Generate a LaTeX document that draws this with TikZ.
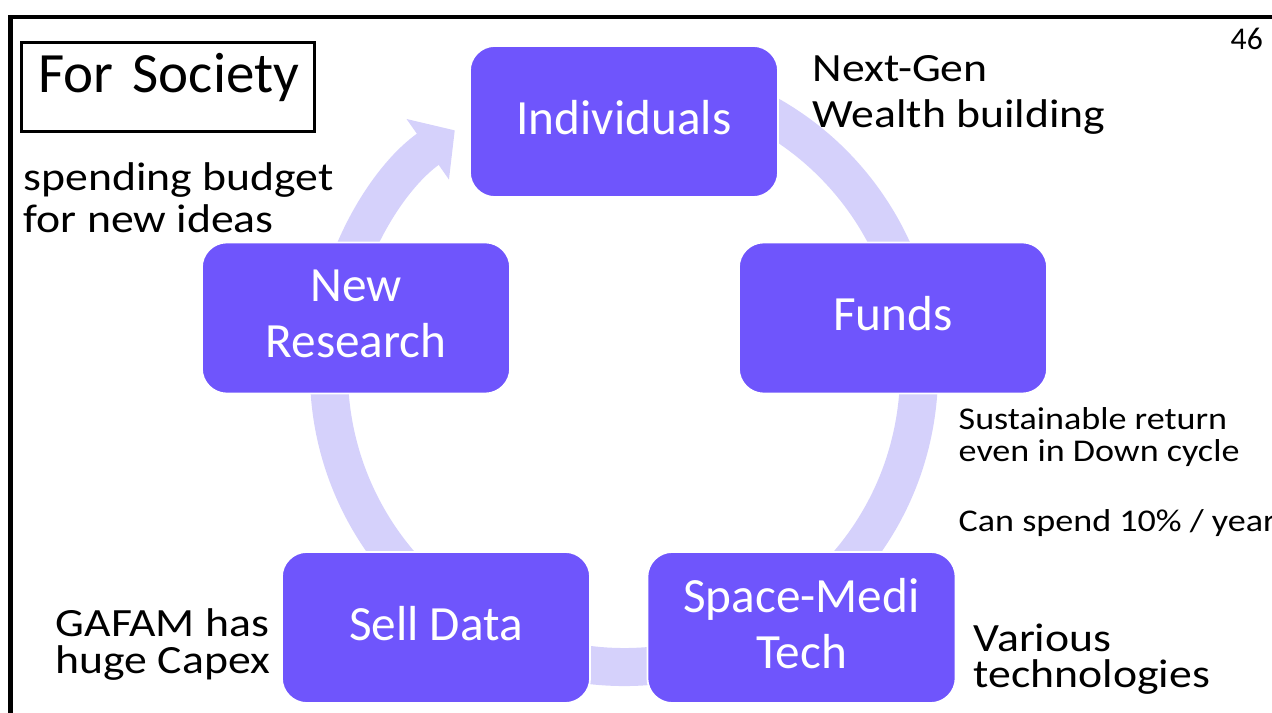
\documentclass[tikz,border=0pt]{standalone}
\usepackage{fontspec}
\setmainfont{Carlito}
\newfontfamily\notefont[FakeStretch=1.14]{Carlito}
\usetikzlibrary{arrows.meta}
\definecolor{cyclebox}{RGB}{111,85,252}
\definecolor{cyclering}{RGB}{213,209,251}

\begin{document}
\begin{tikzpicture}[x=0.01cm, y=-0.01cm,
	stage/.style={draw=white, line width=0.5pt, fill=cyclebox, rounded corners=0.25cm,
		minimum width=3.08cm, minimum height=1.51cm, inner sep=0pt, text depth=0.09cm,
		text=white, align=center, font=\fontsize{14}{15.9}\selectfont},
	note/.style={anchor=base west, align=left, inner sep=0pt},
	ring/.style={cyclering, line width=0.38cm, -{Triangle[width=0.72cm, length=0.33cm]}}]
	\useasboundingbox (0,0) rectangle (1272,713);
	\draw[line width=0.04cm] (10.5,713) -- (10.5,17.5) -- (1272,17.5);
	\node[draw, line width=0.03cm, anchor=north west, align=left, text width=2.59cm,
		inner xsep=0.17cm, inner ysep=0pt, text height=0.5cm, text depth=0.39cm,
		font=\fontsize{16.2}{18}\selectfont] at (20,41) (title){\mbox{For Society}};
	\node[anchor=base west, inner sep=0pt, font=\fontsize{9}{10}\selectfont] at (1230,50) (page){46};

	% the one circular arrow behind the stages
	\coordinate (hub) at (624,372);
	\draw[ring] (hub) ++(-80:295) arc[start angle=-80, end angle=235, radius=295];

	\node[stage] at (624,121.5)(ind){Individuals};
	\node[stage] at (893,318)(funds){Funds};
	\node[stage] at (801.5,627.5)(tech){Space-Medi\\Tech};
	\node[stage] at (436,627.5)(data){Sell Data};
	\node[stage] at (356,318)(research){New\\Research};

	% notes, placed at the baseline of their last line
	\node[note, font=\notefont\fontsize{11.4}{12.2}\selectfont] at (23,233)(budget){spending budget\\for new ideas};
	\node[note, font=\notefont\fontsize{11.4}{13.1}\selectfont] at (812,128)(wealth){Next-Gen\\Wealth building};
	\node[note, font=\notefont\fontsize{9}{9.1}\selectfont] at (958,532)(return){Sustainable return\\even in Down cycle\\[0.38cm]Can spend 10\% / year};
	\node[note, font=\notefont\fontsize{11.4}{10.3}\selectfont] at (973,688)(various){Various\\technologies};
	\node[note, font=\notefont\fontsize{11.4}{10.6}\selectfont] at (55,674)(capex){GAFAM has\\huge Capex};
\end{tikzpicture}
\end{document}
